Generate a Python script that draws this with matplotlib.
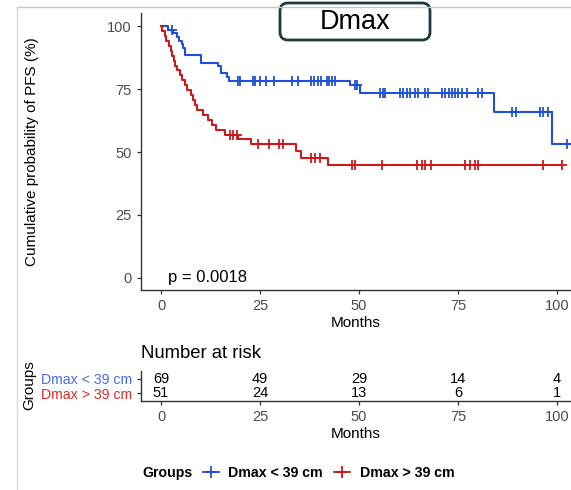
import numpy as np
import matplotlib
matplotlib.use("Agg")
from matplotlib import pyplot as plt
from matplotlib.lines import Line2D
from matplotlib.patches import FancyBboxPatch

plt.rcParams['font.family'] = ['Liberation Sans', 'DejaVu Sans']

# KM step curves (months, % PFS)
blue_t = [0, 1.85, 3.1, 4.0, 4.6, 5.2, 5.6, 6.1, 10.0, 14.5, 15.1, 16.6, 17.2, 47.7, 50.3, 84.1, 98.6, 103.5]
blue_s = [100, 98.6, 97.1, 95.7, 94.2, 92.8, 91.3, 88.4, 85.5, 84.0, 81.2, 79.7, 78.2, 76.6, 73.3, 65.7, 53.0, 53.0]
red_t = [0, 0.25, 0.9, 1.3, 1.9, 2.4, 2.8, 3.3, 3.6, 4.1, 4.7, 5.3, 6.0, 6.6, 7.5, 8.1, 8.7, 9.2,
         10.7, 11.8, 12.8, 14.0, 16.2, 19.5, 22.7, 34.1, 35.4, 42.1, 101.2]
red_s = [100, 98.0, 96.1, 94.1, 92.2, 90.2, 88.2, 86.3, 84.3, 82.4, 80.4, 78.4, 76.5, 74.5, 72.5, 70.6, 68.6, 66.7,
         64.7, 62.7, 60.8, 58.8, 56.9, 55.2, 53.0, 50.4, 47.7, 45.0, 45.0]

# censored observations
blue_cens_t = [2.7, 19.4, 19.9, 23.1, 23.7, 25.0, 26.4, 28.5, 33.0, 34.7, 37.8, 38.5, 39.7, 40.3, 41.8, 42.5, 43.1, 44.0,
               48.9, 49.5, 55.3, 56.0, 56.6, 60.4, 61.2, 62.0, 62.9, 64.1, 65.0, 66.7, 67.5, 70.9, 71.7, 72.6, 73.4,
               74.2, 75.1, 75.9, 77.2, 80.1, 81.0, 88.7, 89.5, 95.7, 96.5, 97.6, 102.5]
blue_cens_s = [98.6] + [78.2] * 17 + [76.6] * 2 + [73.3] * 21 + [65.7] * 5 + [53.0]
red_cens_t = [17.4, 18.3, 19.1, 24.6, 27.3, 29.9, 30.9, 37.8, 38.9, 40.2, 48.2, 49.0, 55.7, 64.6, 65.8, 66.7, 68.2,
              76.8, 78.0, 79.3, 80.0, 96.5, 101.2]
red_cens_s = [56.9] * 3 + [53.0] * 4 + [47.7] * 3 + [45.0] * 13

groups = ['Dmax < 39 cm', 'Dmax > 39 cm']
line_cols = ['#2050D8', '#CC1A1A']
label_cols = ['#4A6BE2', '#E02A2A']

risk_times = [0, 25, 50, 75, 100]
risk_blue = [69, 49, 29, 14, 4]
risk_red = [51, 24, 13, 6, 1]

W, H = 571, 490
fig = plt.figure(figsize=(W / 100, H / 100), dpi=100)

grey_tick = '#4D4D4D'
spine_col = '#333333'

def style(a, size=10.5):
    for s in ['top', 'right']:
        a.spines[s].set_visible(False)
    for s in ['left', 'bottom']:
        a.spines[s].set_color(spine_col)
        a.spines[s].set_linewidth(1.0)
    a.tick_params(colors=spine_col, labelcolor=grey_tick, labelsize=size, length=3, width=0.9)

# main KM panel
ax = fig.add_axes([141 / W, 1 - 290 / H, 430 / W, 277 / H])
style(ax)
ax.step(blue_t, blue_s, where='post', color=line_cols[0], lw=1.5)
ax.step(red_t, red_s, where='post', color=line_cols[1], lw=1.5)
ax.plot(blue_cens_t, blue_cens_s, '+', color=line_cols[0], ms=7, mew=1.3)
ax.plot(red_cens_t, red_cens_s, '+', color=line_cols[1], ms=7, mew=1.3)
ax.set_xlim(-5.05, 103.5)
ax.set_ylim(-4.8, 105.2)
ax.set_xticks(risk_times)
ax.set_yticks([0, 25, 50, 75, 100])
ax.set_xlabel('Months', fontsize=11, labelpad=2)
ax.set_ylabel('Cumulative probability of PFS (%)', fontsize=11)
ax.yaxis.set_label_coords((39 - 141) / 430, 0.5)
ax.text(1.8, 0.2, 'p = 0.0018', fontsize=12, ha='left', va='center')

# title box
box = FancyBboxPatch((2.80, (H - 40) / 100), 1.50, 0.37, boxstyle='round,pad=0,rounding_size=0.08',
                     transform=fig.dpi_scale_trans, facecolor='white', edgecolor='#1C3A3E', lw=2)
fig.patches.append(box)
fig.text(355 / W, 1 - 22 / H, 'Dmax', fontsize=19.5, ha='center', va='center')

# risk table
ax2 = fig.add_axes([141 / W, 1 - 401 / H, 430 / W, 30 / H])
style(ax2)
ax2.set_xlim(-5.05, 103.5)
ax2.set_ylim(-0.57, 1.57)
ax2.set_xticks(risk_times)
ax2.set_yticks([1, 0])
ax2.set_yticklabels(groups, fontsize=10.2)
for lab, c in zip(ax2.get_yticklabels(), label_cols):
    lab.set_color(c)
for t, nb, nr in zip(risk_times, risk_blue, risk_red):
    ax2.text(t, 1, str(nb), ha='center', va='center', fontsize=10.5)
    ax2.text(t, 0, str(nr), ha='center', va='center', fontsize=10.5)
ax2.set_xlabel('Months', fontsize=11, labelpad=2)
fig.text(141 / W, 1 - 353 / H, 'Number at risk', fontsize=13.3, ha='left', va='center')
fig.text(29 / W, 1 - 385 / H, 'Groups', fontsize=11, rotation=90, ha='center', va='center')

# legend
fig.text(142 / W, 1 - 473 / H, 'Groups', fontsize=10.2, fontweight='bold', ha='left', va='center')
handles = [Line2D([], [], color=c, marker='+', ms=9, mew=1.3, lw=1.3) for c in line_cols]
fig.legend(handles, groups, ncol=2, loc='center left', bbox_to_anchor=(203 / W, 1 - 473 / H),
           frameon=False, prop={'weight': 'bold', 'size': 10.2}, handlelength=1.1, handletextpad=0.7,
           columnspacing=0.8, borderpad=0, borderaxespad=0)

# light frame lines of the source figure
fig.add_artist(Line2D([17 / W, 1], [1 - 7 / H, 1 - 7 / H], color='#C8C8C8', lw=1, transform=fig.transFigure))
fig.add_artist(Line2D([17 / W, 17 / W], [0, 1 - 7 / H], color='#DADADA', lw=1, transform=fig.transFigure))

fig.savefig('out.png', dpi=100)
